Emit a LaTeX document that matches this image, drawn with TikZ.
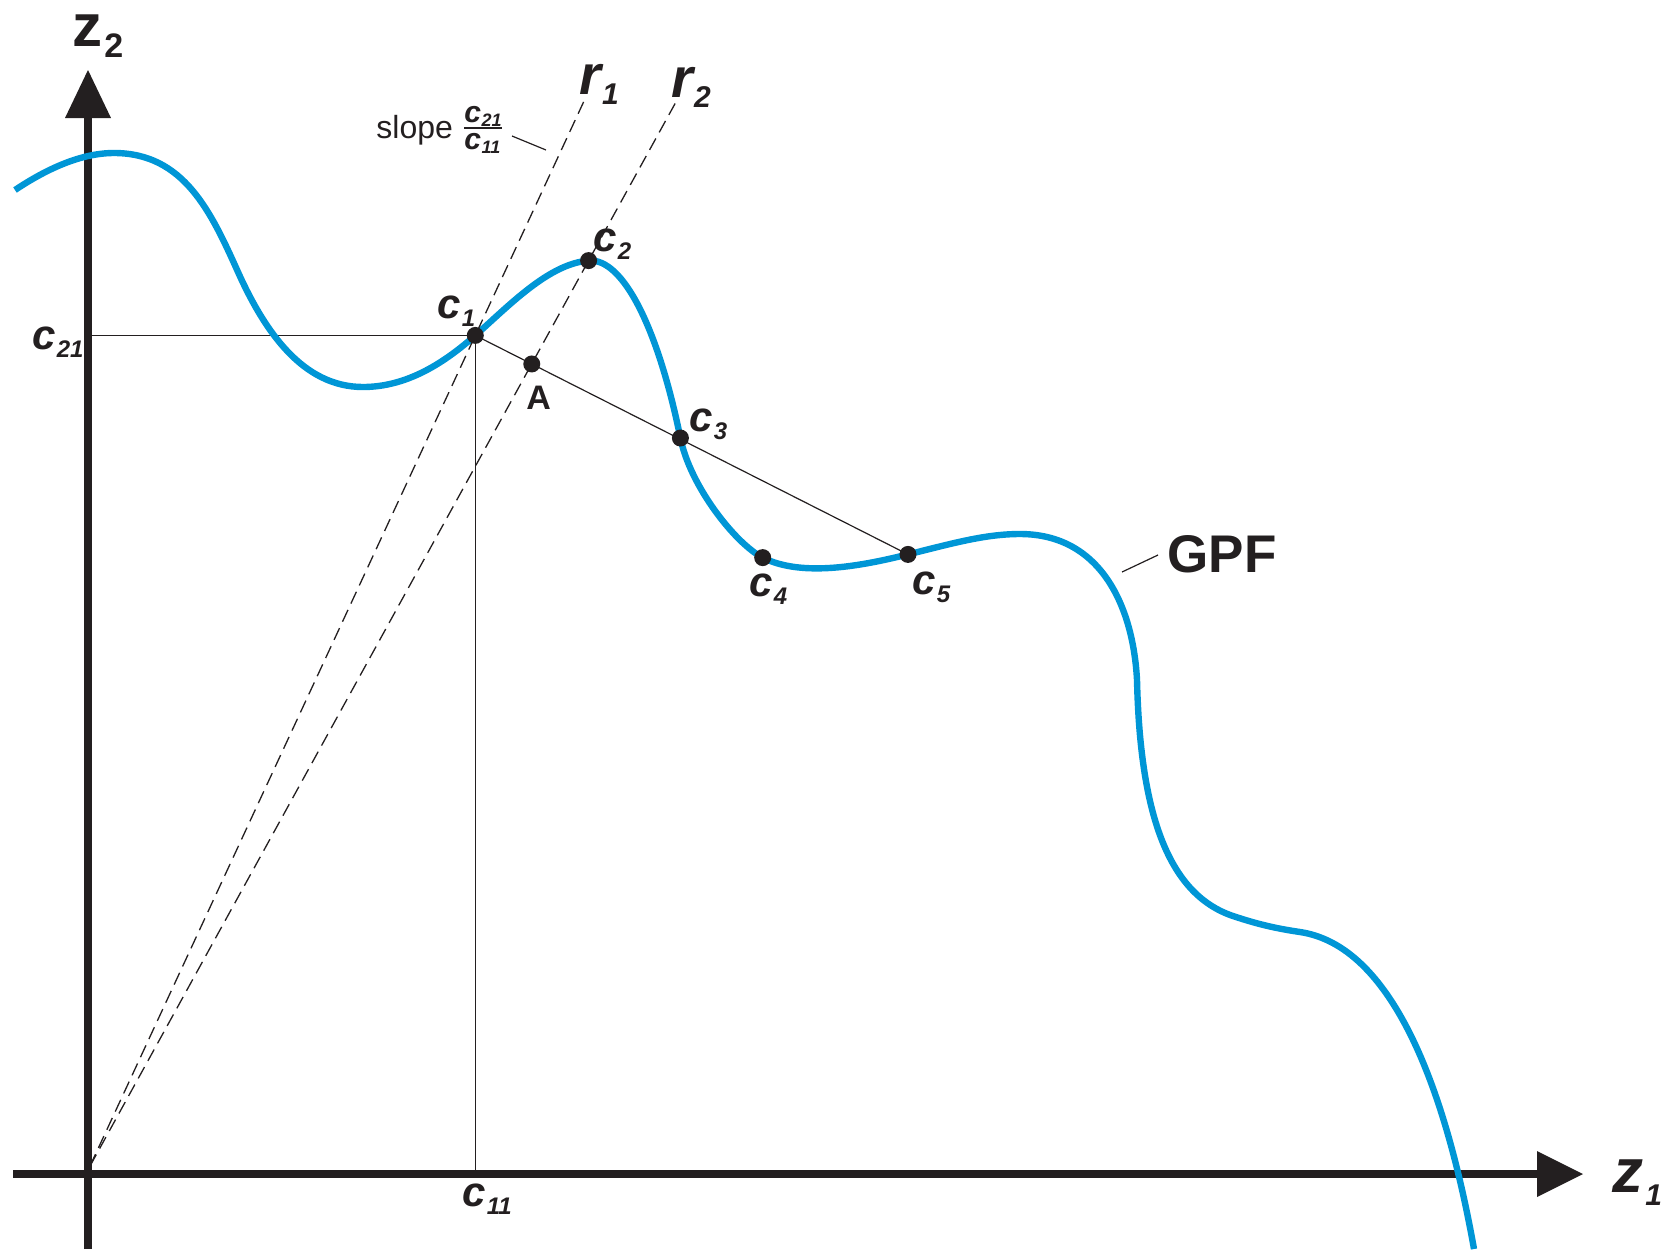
\documentclass[tikz,border=0pt]{standalone}
\usepackage{fontspec}
\setmainfont{Liberation Sans}
\usetikzlibrary{calc}
\definecolor{gpfblue}{RGB}{0,150,214}
\definecolor{ink}{RGB}{35,31,32}
\newcommand\mainlet[2]{{\fontsize{#1}{#1}\selectfont\bfseries\itshape #2}}
\newcommand\sublet[3]{\raisebox{-#2}{\fontsize{#1}{#1}\selectfont\bfseries\itshape #3}}
\tikzset{
  axisline/.style={line width=3.6pt, draw=ink},
  arrowtip/.style={fill=ink, draw=none},
  gpf/.style={line width=3.2pt, draw=gpfblue, line cap=butt},
  thin/.style={line width=0.6pt, draw=ink},
  ray/.style={line width=0.65pt, draw=ink, dash pattern=on 6.5pt off 3.5pt},
  dot/.style={circle, fill=ink, draw=none, inner sep=0pt, minimum size=8.5pt},
  lab/.style={anchor=base west, inner sep=0pt, text=ink},
}
\begin{document}
\begin{tikzpicture}[x=0.5pt,y=-0.5pt]
\useasboundingbox (0,0) rectangle (1675,1249);
% key points
\coordinate (O) at (88,1174);
\coordinate (Ybot) at (88,1249);
\coordinate (Ybase) at (88,117);
\coordinate (Ytip) at (88,70);
\coordinate (Xleft) at (13,1174);
\coordinate (Xbase) at (1538,1174);
\coordinate (Xtip) at (1583,1174);
\coordinate (R) at (90,1166);
\coordinate (p1) at (475.3,335.4);
\coordinate (p2) at (588.6,260.6);
\coordinate (p3) at (680.4,438);
\coordinate (p4) at (762.7,557.6);
\coordinate (p5) at (908,554.4);
\coordinate (pA) at (intersection of R--p2 and p1--p5);
\coordinate (r1top) at ($(R)!1.283!(p1)$);
\coordinate (r2top) at ($(R)!1.1765!(p2)$);
\coordinate (c21pt) at (p1 -| O);
\coordinate (c11pt) at (p1 |- O);
% thin guide lines
\draw[thin] (c21pt) -- (p1);
\draw[thin] (p1) -- (c11pt);
\draw[thin] (p1) -- (p5);
% axes
\draw[axisline] (Ybot) -- (Ybase);
\fill[arrowtip] (65,118) -- (111,118) -- (Ytip) -- cycle;
\draw[axisline] (Xleft) -- (Xbase);
\fill[arrowtip] (1537,1151) -- (1537,1197) -- (Xtip) -- cycle;
% GPF curve
\draw[gpf] (15,190)
  .. controls (45,170) and (80,153) .. (114,153)
  .. controls (184,153) and (211,212) .. (238,272)
  .. controls (265,332) and (303,387) .. (363,387)
  .. controls (408,387) and (445.3,361.8) .. (p1)
  .. controls (509,305.7) and (548.6,263.8) .. (p2)
  .. controls (623.6,257.8) and (658.4,330) .. (p3)
  .. controls (690.4,487) and (736,544) .. (p4)
  .. controls (802.8,577.9) and (864.4,565.2) .. (p5)
  .. controls (951.7,543.6) and (985,534) .. (1020,534)
  .. controls (1100,534) and (1133,605) .. (1137,680)
  .. controls (1140,810) and (1166.5,893.6) .. (1233,916)
  .. controls (1257,924) and (1275,928.3) .. (1300,932)
  .. controls (1390,945.5) and (1444,1081.5) .. (1474,1249);
% rays
\draw[ray] (R) -- (r1top);
\draw[ray] (R) -- (r2top);
% dots
\node[dot] (c1) at (p1) {};
\node[dot] (c2) at (p2) {};
\node[dot] (c3) at (p3) {};
\node[dot] (c4) at (p4) {};
\node[dot] (c5) at (p5) {};
\node[dot] (A) at (pA) {};
% labels
\node[lab] (lc1) at (437,318) {\mainlet{21pt}{c}\kern0.5pt\sublet{12pt}{4pt}{1}};
\node[lab] (lc2) at (593,251) {\mainlet{21pt}{c}\kern0.5pt\sublet{12pt}{4pt}{2}};
\node[lab] (lc3) at (689,431) {\mainlet{21pt}{c}\kern0.5pt\sublet{12pt}{4pt}{3}};
\node[lab] (lc4) at (749,596) {\mainlet{21pt}{c}\kern0.5pt\sublet{12pt}{4pt}{4}};
\node[lab] (lc5) at (912,594) {\mainlet{21pt}{c}\kern0.5pt\sublet{12pt}{4pt}{5}};
\node[lab] (lc21) at (32,349) {\mainlet{21pt}{c}\kern0.5pt\sublet{12pt}{4pt}{21}};
\node[lab] (lc11) at (462,1206) {\mainlet{21pt}{c}\kern0.5pt\sublet{12pt}{4pt}{11}};
\node[lab] (lA) at (526,409) {\fontsize{17pt}{17pt}\selectfont\bfseries A};
\node[lab] (lr1) at (579,94) {\mainlet{28pt}{r}\kern0.5pt\sublet{15pt}{5pt}{1}};
\node[lab] (lr2) at (671,97) {\mainlet{28pt}{r}\kern0.5pt\sublet{15pt}{5pt}{2}};
\node[lab] (lz2) at (72,46) {{\fontsize{30pt}{30pt}\selectfont\bfseries z}\kern1pt\raisebox{-5.5pt}{\fontsize{17pt}{17pt}\selectfont\bfseries 2}};
\node[lab] (lz1) at (1612,1192) {\mainlet{31pt}{z}\kern1pt\sublet{15pt}{6.5pt}{1}};
\node[lab] (lgpf) at (1167,572) {\fontsize{26.5pt}{26.5pt}\selectfont\bfseries GPF};
\node[lab] (lslope) at (376,138) {\fontsize{16pt}{16pt}\selectfont slope};
\node[lab] (fnum) at (464,122) {\mainlet{15pt}{c}\kern0.3pt\sublet{9pt}{2pt}{21}};
\node[lab] (fden) at (464,149) {\mainlet{15pt}{c}\kern0.3pt\sublet{9pt}{2pt}{11}};
\draw[line width=1pt, draw=ink] (464,128) -- (502,128);
% leaders
\coordinate (sl1) at (512,136);
\coordinate (sl2) at (546,150);
\draw[thin] (sl1) -- (sl2);
\coordinate (gl1) at (1122,572);
\coordinate (gl2) at (1158,555);
\draw[thin] (gl1) -- (gl2);
\end{tikzpicture}
\end{document}
